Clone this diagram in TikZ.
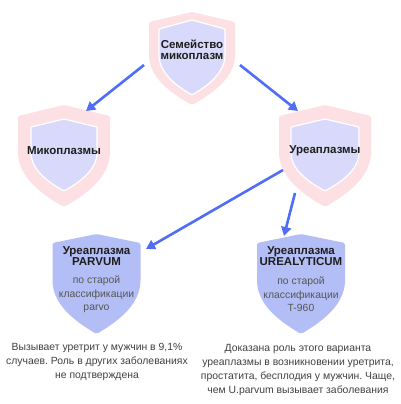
\documentclass[tikz,border=0pt]{standalone}
\usepackage{fontspec}
\setmainfont{Liberation Sans}
\usepackage{xcolor}
\usetikzlibrary{arrows.meta}
\frenchspacing

\definecolor{shieldpink}{HTML}{FDE0E4}
\definecolor{shieldlav}{HTML}{D9D9FB}
\definecolor{shieldblue}{HTML}{B4BEF6}
\definecolor{linkblue}{HTML}{4F6DF5}
\definecolor{labeldark}{HTML}{1E1E1E}
\definecolor{notegray}{HTML}{555555}

% shield: style, centre x, top y, half width, corner drop, height
\newcommand{\shieldat}[6]{%
    \path[#1] (#2,#3) -- (#2-#4,#3+#5) -- (#2-#4,#3+0.45*#6)
        .. controls (#2-#4,#3+0.72*#6) and (#2-0.42*#4,#3+0.89*#6) .. (#2,#3+#6)
        .. controls (#2+0.42*#4,#3+0.89*#6) and (#2+#4,#3+0.72*#6) .. (#2+#4,#3+0.45*#6)
        -- (#2+#4,#3+#5) -- cycle;}

\begin{document}
\begin{tikzpicture}[x=1pt, y=-1pt,
        outer/.style={fill=shieldpink, rounded corners=1.5pt},
        inner/.style={fill=shieldlav, draw=white, line width=1.2pt, rounded corners=1pt},
        solid/.style={fill=shieldblue, rounded corners=1.5pt},
        title/.style={align=center, inner sep=0pt, text=labeldark, font=\fontsize{11.5}{11}\selectfont\bfseries},
        note/.style={align=center, inner sep=0pt, text=notegray, font=\fontsize{10.4}{13.5}\selectfont},
        caption/.style={align=center, inner sep=0pt, text=labeldark!85, font=\fontsize{10.4}{14}\selectfont},
        link/.style={-{Triangle[length=9pt, width=10pt]}, line width=2.6pt, draw=linkblue}]
    \useasboundingbox (0,0) rectangle (400,404);

    % shields
    \shieldat{outer}{192}{12}{43}{10}{93}
    \shieldat{inner}{192}{20}{33}{9}{75}
    \shieldat{outer}{64}{105}{46}{11}{102}
    \shieldat{inner}{64}{119}{33}{8}{72}
    \shieldat{outer}{325}{105}{46}{11}{102}
    \shieldat{inner}{325}{119}{34}{8}{72}
    \shieldat{solid}{96.5}{234}{44}{9}{100}
    \shieldat{solid}{301}{234}{44}{9}{100}

    % labels
    \node[title] (fam) at (192,50) {Семейство\\микоплазм};
    \node[title] (myc) at (64,151) {Микоплазмы};
    \node[title] (ure) at (325,151) {Уреаплазмы};
    \node[title] (parv) at (96.5,256) {Уреаплазма\\PARVUM};
    \node[note] (parv note) at (96.5,294.5) {по старой\\классификации\\parvo};
    \node[title] (urea) at (301,256) {Уреаплазма\\UREALYTICUM};
    \node[note] (urea note) at (301,294.5) {по старой\\классификации\\T-960};
    \node[caption] (parv text) at (97,362) {Вызывает уретрит у мужчин в 9,1\%\\случаев. Роль в других заболеваниях\\не подтверждена};
    \node[caption] (urea text) at (298,370) {Доказана роль этого варианта\\уреаплазмы в возникновении уретрита,\\простатита, бесплодия у мужчин. Чаще,\\чем U.parvum вызывает заболевания};

    % connector ends
    \coordinate (fam l) at (144,65);
    \coordinate (fam r) at (240,65);
    \coordinate (myc in) at (86,111);
    \coordinate (ure in) at (298,111);
    \coordinate (ure l) at (283,170);
    \coordinate (ure b) at (295,193);
    \coordinate (parv in) at (146,249);
    \coordinate (urea in) at (284,236);

    \draw[link] (fam l) -- (myc in);
    \draw[link] (fam r) -- (ure in);
    \draw[link] (ure l) -- (parv in);
    \draw[link] (ure b) -- (urea in);
\end{tikzpicture}
\end{document}
